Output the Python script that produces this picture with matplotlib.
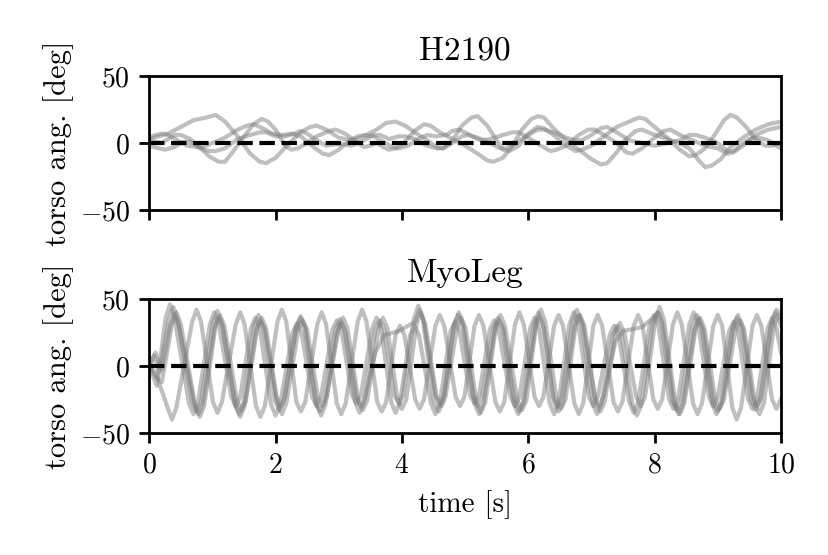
import matplotlib
matplotlib.use('Agg')
import matplotlib.pyplot as plt

plt.rcParams['font.family'] = 'serif'
plt.rcParams['font.serif'] = ['cmr10']
plt.rcParams['mathtext.fontset'] = 'cm'
plt.rcParams['axes.formatter.use_mathtext'] = True
plt.rcParams['font.size'] = 10

# H2190: (time [s], torso angle [deg]) read along each run
h2190_1 = [
    (0, 3), (0.3, 7), (0.5, 12), (0.7, 17), (0.9, 19), (1.05, 21), (1.2, 16), (1.4, 5),
    (1.6, -8), (1.75, -14), (1.85, -15), (2.0, -11), (2.2, -1), (2.4, 8), (2.55, 12),
    (2.65, 13), (2.8, 10), (3.0, 4), (3.2, 2), (3.4, 5), (3.6, 10), (3.75, 15), (3.9, 16),
    (4.05, 13), (4.2, 8), (4.4, 2), (4.55, -3), (4.65, -4), (4.8, 2), (4.95, 13), (5.1, 19),
    (5.2, 20), (5.35, 13), (5.5, 2), (5.6, -5), (5.7, -6), (5.85, -2), (6.0, 7), (6.15, 12),
    (6.25, 11), (6.4, 6), (6.6, -2), (6.75, -6), (6.85, -5), (7.0, -2), (7.2, 5), (7.4, 12),
    (7.6, 16), (7.75, 19), (7.85, 18), (8.0, 12), (8.2, 4), (8.4, -5), (8.55, -10),
    (8.65, -9), (8.8, -4), (8.95, 6), (9.1, 17), (9.2, 21), (9.3, 19), (9.45, 12),
    (9.6, 3), (9.75, -2), (9.85, -2), (10.0, 0),
]
h2190_2 = [
    (0, -2), (0.15, -4), (0.25, -5), (0.4, -3), (0.55, 1), (0.65, 1), (0.8, -3), (0.95, -10),
    (1.1, -14), (1.2, -14), (1.35, -5), (1.5, 5), (1.65, 14), (1.78, 18), (1.88, 16),
    (2.0, 10), (2.15, -2), (2.25, -5), (2.35, -4), (2.5, 0), (2.65, 5), (2.85, 9), (2.95, 10),
    (3.1, 7), (3.25, 2), (3.4, -3), (3.5, -2), (3.6, 0), (3.7, -3), (3.8, -5), (3.9, -4),
    (4.05, 1), (4.2, 9), (4.35, 14), (4.45, 13), (4.6, 8), (4.8, 3), (5.0, -2), (5.2, -8),
    (5.35, -13), (5.45, -14), (5.6, -11), (5.75, -2), (5.9, 10), (6.05, 18), (6.15, 20),
    (6.25, 19), (6.4, 11), (6.6, 2), (6.8, -5), (7.0, -12), (7.15, -16), (7.25, -15),
    (7.4, -7), (7.55, 3), (7.7, 9), (7.8, 10), (7.95, 7), (8.2, 3), (8.4, 0), (8.55, -4),
    (8.7, -13), (8.8, -18), (8.9, -17), (9.05, -12), (9.2, -3), (9.4, 4), (9.6, 10),
    (9.8, 14), (10.0, 16),
]
h2190_3 = [
    (0, 4), (0.1, 6), (0.2, 7), (0.3, 6), (0.45, 2), (0.6, -2), (0.75, -3), (0.85, -3),
    (1.0, 0), (1.2, 4), (1.4, 10), (1.55, 13), (1.65, 14), (1.8, 11), (1.95, 7), (2.1, 6),
    (2.25, 7), (2.4, 5), (2.6, -3), (2.75, -8), (2.85, -9), (3.0, -5), (3.15, 1), (3.3, 5),
    (3.4, 6), (3.55, 5), (3.7, 1), (3.85, -3), (3.95, -4), (4.1, -2), (4.25, 3), (4.4, 6),
    (4.55, 5), (4.7, 6), (4.8, 9), (4.9, 10), (5.0, 8), (5.15, 4), (5.25, 2), (5.4, 3),
    (5.6, 6), (5.75, 8), (5.85, 8), (6.0, 4), (6.2, -2), (6.35, -6), (6.45, -5), (6.6, -2),
    (6.8, 6), (6.95, 10), (7.05, 10), (7.2, 6), (7.4, 0), (7.55, -7), (7.65, -8), (7.8, -4),
    (8.0, 4), (8.15, 9), (8.25, 10), (8.4, 6), (8.6, 2), (8.8, -2), (9.0, -4), (9.15, -8),
    (9.25, -7), (9.4, -2), (9.6, 6), (9.8, 10), (10.0, 12),
]
h2190_4 = [
    (0, 2), (0.1, 1), (0.2, 0), (0.3, 3), (0.4, 6), (0.5, 6), (0.65, 3), (0.8, -4),
    (0.95, -6), (1.05, -6), (1.2, -4), (1.4, 3), (1.6, 6), (1.75, 8), (1.85, 8), (2.0, 5),
    (2.15, 5), (2.3, 7), (2.4, 9), (2.5, 7), (2.65, 2), (2.8, -2), (2.95, -1), (3.1, -1),
    (3.2, -2), (3.4, 2), (3.55, 6), (3.65, 6), (3.8, 3), (3.95, 5), (4.05, 5), (4.2, 3),
    (4.4, -2), (4.55, -4), (4.65, -4), (4.8, 0), (4.95, 5), (5.05, 6), (5.2, 4), (5.4, 0),
    (5.55, -4), (5.65, -4), (5.8, 0), (6.0, 6), (6.15, 10), (6.25, 10), (6.4, 8), (6.6, 4),
    (6.75, 2), (6.85, 2), (7.0, 6), (7.15, 11), (7.25, 12), (7.4, 8), (7.6, 2), (7.8, 0),
    (8.0, -2), (8.2, 0), (8.4, 2), (8.55, 6), (8.65, 6), (8.8, 4), (9.0, 0), (9.15, -6),
    (9.25, -6), (9.4, 0), (9.55, 4), (9.65, 4), (9.8, 2), (10.0, -4),
]
h2190_runs = [h2190_1, h2190_2, h2190_3, h2190_4]

# MyoLeg: (time [s], torso angle [deg]) read around each peak / trough
myoleg_1 = [
    (0, 0), (0.08, 8), (0.16, -5), (0.31, 34), (0.38, 44), (0.45, 35),
    (0.68, -27), (0.75, -34), (0.82, -27), (1.01, 32), (1.08, 41), (1.15, 32),
    (1.35, -28), (1.42, -36), (1.49, -28), (1.66, 30), (1.73, 38), (1.80, 30),
    (1.99, -26), (2.06, -33), (2.13, -26), (2.32, 28), (2.39, 36), (2.46, 28),
    (2.63, -27), (2.70, -34), (2.77, -27), (2.95, 27), (3.02, 35), (3.09, 27),
    (3.26, -27), (3.33, -35), (3.40, -27), (3.58, 27), (3.65, 34), (3.72, 27),
    (3.88, -22), (3.95, -28), (4.02, -22), (4.19, 35), (4.26, 45), (4.33, 35),
    (4.51, -27), (4.58, -34), (4.65, -27), (4.82, 30), (4.89, 38), (4.96, 30),
    (5.13, -23), (5.20, -30), (5.27, -23), (5.45, 28), (5.52, 36), (5.59, 28),
    (5.77, -28), (5.84, -36), (5.91, -28), (6.09, 31), (6.16, 40), (6.23, 31),
    (6.39, -23), (6.46, -30), (6.53, -23), (6.70, 33), (6.77, 42), (6.84, 33),
    (7.02, -28), (7.09, -36), (7.16, -28), (7.34, 23), (7.41, 30), (7.48, 23),
    (7.65, -29), (7.72, -37), (7.79, -29), (7.97, 31), (8.04, 40), (8.11, 31),
    (8.28, -26), (8.35, -33), (8.42, -26), (8.60, 30), (8.67, 38), (8.74, 30),
    (8.91, -28), (8.98, -36), (9.05, -28), (9.23, 28), (9.30, 36), (9.37, 28),
    (9.53, -26), (9.60, -33), (9.67, -26), (9.84, 31), (9.91, 40), (9.98, 32),
    (10.0, 30),
]
myoleg_2 = [
    (0, 0), (0.10, -8), (0.20, -12), (0.36, 31), (0.43, 40), (0.50, 31),
    (0.73, -30), (0.80, -38), (0.87, -30), (1.05, 30), (1.12, 38), (1.19, 30),
    (1.39, -26), (1.46, -33), (1.53, -26), (1.71, 28), (1.78, 36), (1.85, 28),
    (2.03, -28), (2.10, -36), (2.17, -28), (2.36, 27), (2.43, 34), (2.50, 27),
    (2.67, -23), (2.74, -30), (2.81, -23), (3.00, 28), (3.07, 36), (3.14, 28),
    (3.31, -26), (3.38, -33), (3.45, -26), (3.63, 28), (3.70, 36), (3.77, 28),
    (3.93, -25), (4.00, -32), (4.07, -25), (4.23, 31), (4.30, 40), (4.37, 31),
    (4.55, -23), (4.62, -30), (4.69, -23), (4.87, 28), (4.94, 36), (5.01, 28),
    (5.18, -27), (5.25, -35), (5.32, -27), (5.49, 30), (5.56, 38), (5.63, 30),
    (5.83, -26), (5.90, -33), (5.97, -26), (6.13, 33), (6.20, 42), (6.27, 33),
    (6.45, -25), (6.52, -32), (6.59, -25), (6.75, 30), (6.82, 38), (6.89, 30),
    (7.07, -27), (7.14, -34), (7.21, -27), (7.38, 25), (7.45, 32), (7.52, 25),
    (7.71, -23), (7.78, -30), (7.85, -23), (8.01, 34), (8.08, 44), (8.15, 34),
    (8.33, -28), (8.40, -36), (8.47, -28), (8.65, 28), (8.72, 36), (8.79, 28),
    (8.96, -25), (9.03, -32), (9.10, -25), (9.28, 27), (9.35, 34), (9.42, 27),
    (9.59, -28), (9.66, -36), (9.73, -28), (9.89, 30), (9.96, 38), (10.0, 35),
]
myoleg_3 = [
    (0, 0), (0.12, -15), (0.26, 36), (0.33, 46), (0.40, 36),
    (0.63, -28), (0.70, -36), (0.77, -28), (0.96, 31), (1.03, 40), (1.10, 31),
    (1.30, -23), (1.37, -30), (1.44, -23), (1.61, 28), (1.68, 36), (1.75, 28),
    (1.93, -29), (2.00, -37), (2.07, -29), (2.27, 25), (2.34, 32), (2.41, 25),
    (2.58, -23), (2.65, -30), (2.72, -23), (2.90, 27), (2.97, 34), (3.04, 27),
    (3.21, -22), (3.28, -28), (3.35, -22), (3.53, 28), (3.60, 36), (3.67, 28),
    (3.83, -27), (3.90, -35), (3.97, -27), (4.13, 23), (4.20, 30), (4.27, 23),
    (4.46, -28), (4.53, -36), (4.60, -28), (4.77, 26), (4.84, 33), (4.91, 26),
    (5.08, -22), (5.15, -28), (5.22, -22), (5.39, 27), (5.46, 34), (5.53, 27),
    (5.72, -23), (5.79, -30), (5.86, -23), (6.03, 28), (6.10, 36), (6.17, 28),
    (6.34, -28), (6.41, -36), (6.48, -28), (6.65, 31), (6.72, 40), (6.79, 31),
    (6.96, -23), (7.03, -30), (7.10, -23), (7.29, 23), (7.36, 30), (7.43, 23),
    (7.60, -27), (7.67, -35), (7.74, -27), (7.92, 30), (7.99, 38), (8.06, 30),
    (8.23, -25), (8.30, -32), (8.37, -25), (8.55, 31), (8.62, 40), (8.69, 31),
    (8.86, -23), (8.93, -30), (9.00, -23), (9.18, 26), (9.25, 33), (9.32, 26),
    (9.48, -25), (9.55, -32), (9.62, -25), (9.79, 28), (9.86, 36), (9.93, 28),
    (10.0, 10),
]
myoleg_4 = [
    (0, 0), (0.10, 10), (0.20, -3), (0.33, 30), (0.40, 38), (0.47, 30),
    (0.71, -28), (0.78, -36), (0.85, -28), (1.03, 28), (1.10, 36), (1.17, 28),
    (1.37, -30), (1.44, -38), (1.51, -30), (1.69, 27), (1.76, 34), (1.83, 27),
    (2.01, -23), (2.08, -30), (2.15, -23), (2.33, 29), (2.40, 37), (2.47, 29),
    (2.65, -29), (2.72, -37), (2.79, -29), (2.97, 25), (3.04, 32), (3.11, 25),
    (3.28, -23), (3.35, -30), (3.42, -23), (3.58, 10), (3.72, 23), (3.95, 26),
    (4.21, 33), (4.28, 42), (4.35, 33), (4.53, -22), (4.60, -28), (4.67, -22),
    (4.83, 31), (4.90, 40), (4.97, 31), (5.15, -28), (5.22, -36), (5.29, -28),
    (5.47, 27), (5.54, 34), (5.61, 27), (5.79, -27), (5.86, -34), (5.93, -27),
    (6.11, 28), (6.18, 36), (6.25, 28), (6.41, -27), (6.48, -34), (6.55, -27),
    (6.73, 30), (6.80, 38), (6.87, 30), (7.05, -23), (7.12, -30), (7.19, -23),
    (7.38, 18), (7.50, 26), (7.80, 29), (7.98, 36), (8.06, 40), (8.13, 31),
    (8.31, -28), (8.38, -36), (8.45, -28), (8.63, 27), (8.70, 35), (8.77, 27),
    (8.93, -27), (9.00, -34), (9.07, -27), (9.25, 30), (9.32, 38), (9.39, 30),
    (9.55, -23), (9.62, -30), (9.69, -23), (9.86, 33), (9.93, 42), (10.0, 38),
]
myoleg_5 = [
    (0, 0), (0.10, -5), (0.29, -31), (0.36, -40), (0.43, -31),
    (0.68, 33), (0.75, 42), (0.82, 33), (1.01, -27), (1.08, -35), (1.15, -27),
    (1.37, 31), (1.44, 40), (1.51, 31), (1.69, -30), (1.76, -38), (1.83, -30),
    (2.03, 33), (2.10, 42), (2.17, 33), (2.33, -27), (2.40, -34), (2.47, -27),
    (2.66, 31), (2.73, 40), (2.80, 31), (2.97, -28), (3.04, -36), (3.11, -28),
    (3.30, 33), (3.37, 42), (3.44, 33), (3.61, -27), (3.68, -34), (3.75, -27),
    (3.90, 23), (3.97, 30), (4.04, 23), (4.21, -25), (4.28, -32), (4.35, -25),
    (4.53, 30), (4.60, 38), (4.67, 30), (4.85, -23), (4.92, -30), (4.99, -23),
    (5.15, 30), (5.22, 38), (5.29, 30), (5.48, -27), (5.55, -34), (5.62, -27),
    (5.79, 31), (5.86, 40), (5.93, 31), (6.10, -23), (6.17, -30), (6.24, -23),
    (6.41, 30), (6.48, 38), (6.55, 30), (6.73, -28), (6.80, -36), (6.87, -28),
    (7.03, 30), (7.10, 38), (7.17, 30), (7.35, -27), (7.42, -34), (7.49, -27),
    (7.67, 30), (7.74, 38), (7.81, 30), (7.98, -25), (8.05, -32), (8.12, -25),
    (8.29, 31), (8.36, 40), (8.43, 31), (8.61, -28), (8.68, -36), (8.75, -28),
    (8.93, 30), (9.00, 38), (9.07, 30), (9.23, -31), (9.30, -40), (9.37, -31),
    (9.55, 30), (9.62, 38), (9.69, 30), (9.86, -25), (9.93, -32), (10.0, -25),
]
myoleg_runs = [myoleg_1, myoleg_2, myoleg_3, myoleg_4, myoleg_5]

fig, (ax_top, ax_bot) = plt.subplots(2, 1, sharex=True, figsize=(4.145, 2.775), dpi=200)
fig.subplots_adjust(left=0.18, right=0.942, top=0.863, bottom=0.22, hspace=0.664)

for ax, runs in ((ax_top, h2190_runs), (ax_bot, myoleg_runs)):
    for run in runs:
        t, vals = zip(*run)
        ax.plot(t, vals, color='gray', alpha=0.5, lw=1.5, solid_joinstyle='round')

for ax, name in ((ax_top, 'H2190'), (ax_bot, 'MyoLeg')):
    ax.axhline(0, color='black', ls='--', lw=1.5)
    ax.set_title(name)
    ax.set_ylim(-50, 50)
    ax.set_yticks([-50, 0, 50])
    ax.set_xlim(0, 10)
    ax.set_ylabel('torso ang. [deg]', fontsize=11, labelpad=2)
    for spine in ax.spines.values():
        spine.set_linewidth(1.0)
    ax.tick_params(width=1.0)

ax_bot.set_xticks([0, 2, 4, 6, 8, 10])
ax_bot.set_xlabel('time [s]', fontsize=10.5)

fig.savefig('out.png', dpi=200)
